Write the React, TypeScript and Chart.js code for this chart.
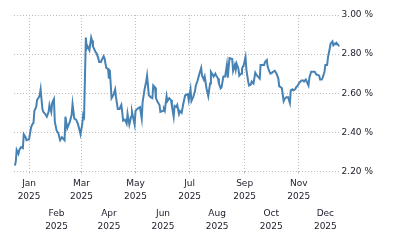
import React, { useEffect, useRef } from "react";
import { Chart, registerables } from "chart.js";

Chart.register(...registerables);

// days since 1 Jan 2025 (negative = December 2024)
const days: number[] = [
  -16, -15, -14, -12, -11, -9, -7, -6, -4, -3, 0, 2, 3, 5, 6, 8, 9, 11, 12, 13,
  15, 16, 18, 20, 22, 23, 25, 26, 28, 29, 31, 33, 35, 37, 38, 40, 41, 43, 46, 48,
  49, 51, 53, 55, 58, 60, 61, 62, 64, 65, 66, 68, 70, 71, 72, 75, 76, 78, 79, 81,
  84, 85, 87, 89, 90, 91, 93, 95, 97, 98, 100, 102, 104, 105, 106, 108, 110, 111, 113, 115,
  116, 119, 120, 122, 125, 127, 128, 130, 132, 133, 135, 137, 139, 140, 142, 143, 145, 147, 148, 151,
  152, 153, 155, 156, 158, 160, 161, 163, 164, 166, 167, 169, 170, 172, 174, 176, 179, 180, 182, 183,
  185, 187, 188, 190, 192, 194, 195, 197, 198, 200, 202, 204, 205, 207, 208, 210, 211, 213, 214, 216,
  217, 219, 221, 223, 224, 225, 226, 229, 230, 232, 233, 234, 236, 237, 239, 240, 242, 244, 245, 247,
  248, 250, 251, 253, 255, 257, 258, 260, 261, 263, 265, 266, 268, 269, 271, 272, 274, 275, 277, 279,
  281, 282, 284, 285, 287, 288, 290, 292, 294, 295, 297, 298, 300, 301, 303, 304, 306, 307, 309, 310,
  312, 313, 315, 316, 318, 319, 321, 322, 324, 325, 327, 328, 330, 331, 333, 334, 336, 337, 339, 340,
  342, 343, 345, 346, 347, 349, 350,
];

// yield in percent
const yields: number[] = [
  2.23, 2.25, 2.31, 2.29, 2.31, 2.325, 2.32, 2.39, 2.375, 2.36, 2.365, 2.42, 2.435, 2.45, 2.51, 2.53, 2.565, 2.58, 2.59, 2.62,
  2.52, 2.505, 2.495, 2.48, 2.505, 2.54, 2.505, 2.55, 2.57, 2.455, 2.41, 2.395, 2.36, 2.375, 2.37, 2.36, 2.48, 2.42, 2.455, 2.49,
  2.545, 2.47, 2.465, 2.445, 2.39, 2.445, 2.49, 2.48, 2.885, 2.83, 2.84, 2.82, 2.885, 2.87, 2.84, 2.81, 2.805, 2.78, 2.76, 2.76,
  2.79, 2.78, 2.73, 2.725, 2.675, 2.72, 2.575, 2.59, 2.62, 2.58, 2.52, 2.52, 2.54, 2.505, 2.46, 2.465, 2.445, 2.495, 2.44, 2.48,
  2.505, 2.44, 2.51, 2.52, 2.53, 2.47, 2.555, 2.615, 2.66, 2.69, 2.59, 2.58, 2.575, 2.64, 2.63, 2.575, 2.555, 2.54, 2.505, 2.51,
  2.52, 2.51, 2.585, 2.56, 2.575, 2.565, 2.535, 2.48, 2.535, 2.53, 2.54, 2.495, 2.51, 2.5, 2.55, 2.59, 2.595, 2.565, 2.62, 2.56,
  2.58, 2.61, 2.64, 2.665, 2.7, 2.73, 2.69, 2.67, 2.685, 2.625, 2.585, 2.65, 2.71, 2.695, 2.685, 2.7, 2.69, 2.675, 2.65, 2.625,
  2.63, 2.685, 2.685, 2.745, 2.68, 2.735, 2.78, 2.775, 2.715, 2.745, 2.72, 2.75, 2.725, 2.69, 2.7, 2.725, 2.745, 2.785, 2.72, 2.66,
  2.64, 2.645, 2.66, 2.65, 2.705, 2.69, 2.69, 2.675, 2.745, 2.745, 2.745, 2.76, 2.77, 2.735, 2.71, 2.7, 2.705, 2.71, 2.715, 2.7,
  2.675, 2.635, 2.63, 2.625, 2.56, 2.57, 2.58, 2.58, 2.55, 2.615, 2.62, 2.615, 2.62, 2.63, 2.64, 2.65, 2.66, 2.665, 2.665, 2.66,
  2.67, 2.66, 2.64, 2.68, 2.71, 2.71, 2.71, 2.71, 2.695, 2.695, 2.69, 2.67, 2.67, 2.68, 2.71, 2.745, 2.745, 2.785, 2.83, 2.855,
  2.865, 2.845, 2.855, 2.85, 2.855, 2.845, 2.84,
];

const monthStarts: number[] = [0, 31, 59, 90, 120, 151, 181, 212, 243, 273, 304, 334];
const monthNames: string[] = ["Jan", "Feb", "Mar", "Apr", "May", "Jun", "Jul", "Aug", "Sep", "Oct", "Nov", "Dec"];
const yearLabel = "2025";
const yTicks: number[] = [2.2, 2.4, 2.6, 2.8, 3.0];

const X_MIN = -17;
const X_MAX = 350;

const FONT = { family: "'DejaVu Sans', sans-serif", size: 9, lineHeight: 13 / 9 };
const TEXT_COLOR = "#1b1b2a";
const GRID_COLOR = "#bdbdbd";

function monthLabel(value: number): string[] {
  const i = monthStarts.indexOf(value);
  return i >= 0 ? [monthNames[i], yearLabel] : [];
}

export default function App() {
  const ref = useRef<HTMLCanvasElement | null>(null);

  useEffect(() => {
    document.body.style.margin = "0";
    const canvas = ref.current;
    if (!canvas) return;
    const points = days.map((d, i) => ({ x: d, y: yields[i] }));
    const oddMonths = monthStarts.filter((_, i) => i % 2 === 0);
    const evenMonths = monthStarts.filter((_, i) => i % 2 === 1);

    const chart = new Chart(canvas, {
      type: "line",
      data: {
        datasets: [
          {
            data: points,
            borderColor: "#4682B4",
            borderWidth: 2,
            pointRadius: 0,
            tension: 0,
            fill: false,
          },
        ],
      },
      options: {
        animation: false,
        responsive: false,
        devicePixelRatio: 1,
        layout: { padding: { left: 14, top: 15, right: 25, bottom: 16.5 } },
        plugins: { legend: { display: false }, tooltip: { enabled: false } },
        scales: {
          x: {
            type: "linear",
            position: "bottom",
            min: X_MIN,
            max: X_MAX,
            afterBuildTicks: (axis: any) => {
              axis.ticks = oddMonths.map((v) => ({ value: v }));
            },
            grid: {
              display: true,
              color: GRID_COLOR,
              lineWidth: 1,
              drawTicks: true,
              tickLength: 2,
            },
            border: { display: false, dash: [1, 2] },
            ticks: {
              autoSkip: false,
              maxRotation: 0,
              minRotation: 0,
              padding: 4,
              color: TEXT_COLOR,
              font: FONT,
              callback: (value: any) => monthLabel(Number(value)),
            },
          },
          x2: {
            type: "linear",
            position: "bottom",
            min: X_MIN,
            max: X_MAX,
            afterBuildTicks: (axis: any) => {
              axis.ticks = evenMonths.map((v) => ({ value: v }));
            },
            grid: { display: false, drawTicks: false },
            border: { display: false },
            ticks: {
              autoSkip: false,
              maxRotation: 0,
              minRotation: 0,
              padding: 0,
              color: TEXT_COLOR,
              font: FONT,
              callback: (value: any) => monthLabel(Number(value)),
            },
          },
          y: {
            type: "linear",
            position: "right",
            min: 2.2,
            max: 3.0,
            afterBuildTicks: (axis: any) => {
              axis.ticks = yTicks.map((v) => ({ value: v }));
            },
            grid: { color: GRID_COLOR, lineWidth: 1, drawTicks: false },
            border: { display: false, dash: [1, 2] },
            ticks: {
              padding: 2,
              color: TEXT_COLOR,
              font: FONT,
              callback: (value: any) => `${Number(value).toFixed(2)} %`,
            },
          },
        },
      },
    } as any);

    return () => chart.destroy();
  }, []);

  return (
    <div style={{ position: "fixed", left: 0, top: 0, width: 400, height: 250 }}>
      <canvas ref={ref} width={400} height={250} />
    </div>
  );
}
